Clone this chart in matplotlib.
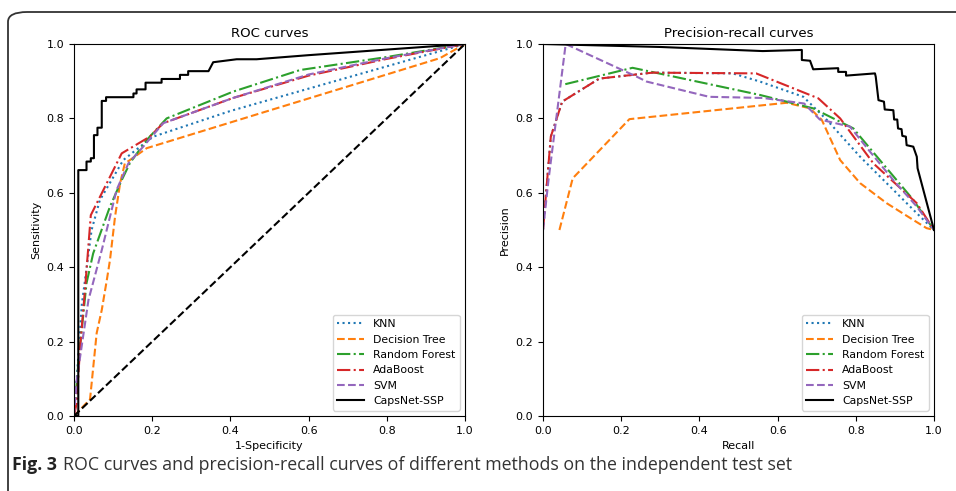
import matplotlib
matplotlib.use('Agg')
import matplotlib.pyplot as plt
from matplotlib.patches import FancyBboxPatch

# ROC curve points (1-specificity, sensitivity)
knn_fpr = [0.0, 0.007, 0.02, 0.045, 0.066, 0.126, 0.169, 0.203, 0.4, 0.6, 0.8, 1.0]
knn_tpr = [0.0, 0.10, 0.30, 0.50, 0.58, 0.688, 0.724, 0.751, 0.82, 0.88, 0.94, 1.0]
dt_fpr = [0.0, 0.041, 0.058, 0.071, 0.084, 0.092, 0.105, 0.118, 0.130, 0.143, 0.186, 0.936, 1.0]
dt_tpr = [0.0, 0.045, 0.223, 0.285, 0.366, 0.419, 0.536, 0.626, 0.679, 0.688, 0.720, 0.962, 1.0]
rf_fpr = [0.0, 0.011, 0.032, 0.049, 0.092, 0.122, 0.143, 0.186, 0.237, 0.407, 0.578, 0.8, 1.0]
rf_tpr = [0.0, 0.142, 0.357, 0.437, 0.563, 0.634, 0.680, 0.742, 0.800, 0.872, 0.930, 0.965, 1.0]
ada_fpr = [0.0, 0.007, 0.015, 0.028, 0.043, 0.122, 0.194, 0.228, 0.407, 0.6, 0.8, 1.0]
ada_tpr = [0.0, 0.035, 0.177, 0.339, 0.540, 0.706, 0.751, 0.787, 0.855, 0.915, 0.960, 1.0]
svm_fpr = [0.0, 0.007, 0.037, 0.071, 0.109, 0.139, 0.177, 0.228, 0.407, 0.6, 0.8, 1.0]
svm_tpr = [0.0, 0.097, 0.312, 0.446, 0.608, 0.679, 0.724, 0.787, 0.855, 0.918, 0.962, 1.0]
caps_fpr = [0.0, 0.011, 0.011, 0.032, 0.032, 0.043, 0.043, 0.051, 0.051, 0.060, 0.060, 0.071,
            0.071, 0.082, 0.082, 0.152, 0.152, 0.160, 0.160, 0.183, 0.183, 0.224, 0.224,
            0.271, 0.271, 0.292, 0.292, 0.344, 0.356, 0.416, 0.467, 0.6, 0.8, 1.0]
caps_tpr = [0.0, 0.0, 0.661, 0.661, 0.684, 0.684, 0.693, 0.693, 0.755, 0.755, 0.775, 0.775,
            0.847, 0.847, 0.857, 0.857, 0.867, 0.867, 0.878, 0.878, 0.896, 0.896, 0.906,
            0.906, 0.917, 0.917, 0.927, 0.927, 0.951, 0.959, 0.959, 0.970, 0.985, 1.0]

# Precision-recall curve points (recall, precision)
knn_rec = [0.0, 0.02, 0.049, 0.144, 0.28, 0.485, 0.555, 0.666, 0.726, 0.811, 0.896, 0.956, 1.0]
knn_pre = [0.5, 0.751, 0.845, 0.907, 0.923, 0.921, 0.899, 0.858, 0.796, 0.697, 0.608, 0.545, 0.5]
dt_rec = [0.042, 0.076, 0.221, 0.623, 0.683, 0.713, 0.760, 0.811, 0.879, 0.947, 0.981, 1.0]
dt_pre = [0.5, 0.639, 0.798, 0.842, 0.827, 0.796, 0.688, 0.626, 0.572, 0.527, 0.505, 0.5]
rf_rec = [0.057, 0.229, 0.555, 0.691, 0.794, 0.811, 0.947, 1.0]
rf_pre = [0.892, 0.936, 0.863, 0.827, 0.773, 0.751, 0.581, 0.5]
ada_rec = [0.0, 0.02, 0.049, 0.144, 0.28, 0.545, 0.704, 0.760, 0.845, 0.956, 1.0]
ada_pre = [0.5, 0.751, 0.845, 0.907, 0.923, 0.921, 0.854, 0.800, 0.679, 0.572, 0.5]
svm_rec = [0.0, 0.014, 0.058, 0.240, 0.265, 0.425, 0.562, 0.668, 0.708, 0.785, 0.836, 0.896, 0.956, 1.0]
svm_pre = [0.5, 0.634, 1.0, 0.912, 0.899, 0.858, 0.855, 0.840, 0.797, 0.778, 0.711, 0.634, 0.563, 0.5]
caps_rec = [0.0, 0.3, 0.562, 0.662, 0.662, 0.683, 0.691, 0.755, 0.755, 0.775, 0.775, 0.849, 0.851,
            0.858, 0.872, 0.874, 0.896, 0.898, 0.906, 0.908, 0.917, 0.919, 0.928, 0.930, 0.947,
            0.956, 0.958, 1.0]
caps_pre = [1.0, 0.992, 0.981, 0.984, 0.957, 0.955, 0.932, 0.935, 0.925, 0.925, 0.915, 0.921, 0.912,
            0.849, 0.845, 0.824, 0.822, 0.797, 0.797, 0.773, 0.771, 0.753, 0.751, 0.728, 0.724,
            0.697, 0.666, 0.5]

labels = ['KNN', 'Decision Tree', 'Random Forest', 'AdaBoost', 'SVM', 'CapsNet-SSP']
colors = ['#1f77b4', '#ff7f0e', '#2ca02c', '#d62728', '#9467bd', 'black']
styles = [':', '--', '-.', '-.', '--', '-']
xticks = [0.0, 0.2, 0.4, 0.6, 0.8, 1.0]

roc = [(knn_fpr, knn_tpr), (dt_fpr, dt_tpr), (rf_fpr, rf_tpr),
       (ada_fpr, ada_tpr), (svm_fpr, svm_tpr), (caps_fpr, caps_tpr)]
pr = [(knn_rec, knn_pre), (dt_rec, dt_pre), (rf_rec, rf_pre),
      (ada_rec, ada_pre), (svm_rec, svm_pre), (caps_rec, caps_pre)]

fig = plt.figure(figsize=(9.56, 4.91), dpi=100)
ax1 = fig.add_axes([74 / 956, 75 / 491, 391 / 956, 372 / 491])
ax2 = fig.add_axes([543 / 956, 75 / 491, 391 / 956, 372 / 491])

# ROC
for (x, y), lab, c, ls in zip(roc, labels, colors, styles):
    ax1.plot(x, y, linestyle=ls, color=c, label=lab, lw=1.5)
ax1.plot([0, 1], [0, 1], 'k--', lw=1.5)
ax1.set_title('ROC curves', fontsize=9.5, pad=5)
ax1.set_xlabel('1-Specificity', fontsize=8)
ax1.set_ylabel('Sensitivity', fontsize=8)

# PR
for (x, y), lab, c, ls in zip(pr, labels, colors, styles):
    ax2.plot(x, y, linestyle=ls, color=c, label=lab, lw=1.5)
ax2.set_title('Precision-recall curves', fontsize=9.5, pad=5)
ax2.set_xlabel('Recall', fontsize=8)
ax2.set_ylabel('Precision', fontsize=8)

for ax in (ax1, ax2):
    ax.set_xlim(0, 1)
    ax.set_ylim(0, 1)
    ax.set_xticks(xticks)
    ax.set_yticks(xticks)
    ax.tick_params(labelsize=8, length=3.5)
    ax.legend(loc='lower right', fontsize=7.8, framealpha=0.8, handlelength=2.5)

# rounded frame and caption
frame = FancyBboxPatch((8 / 956, -0.05), 1.1, 1 - 12 / 491 + 0.05,
                       boxstyle='round,pad=0,rounding_size=0.02',
                       transform=fig.transFigure, fill=False,
                       edgecolor='#333333', lw=1.3, clip_on=False)
fig.add_artist(frame)
fig.text(12 / 956, 1 - 465 / 491, 'Fig. 3', fontsize=12.8, fontweight='bold',
         family='Open Sans', va='center', color='#222222')
fig.text(63 / 956, 1 - 465 / 491,
         'ROC curves and precision-recall curves of different methods on the independent test set',
         fontsize=12.8, family='Open Sans', va='center', color='#333333')

fig.savefig('out.png', dpi=100)
